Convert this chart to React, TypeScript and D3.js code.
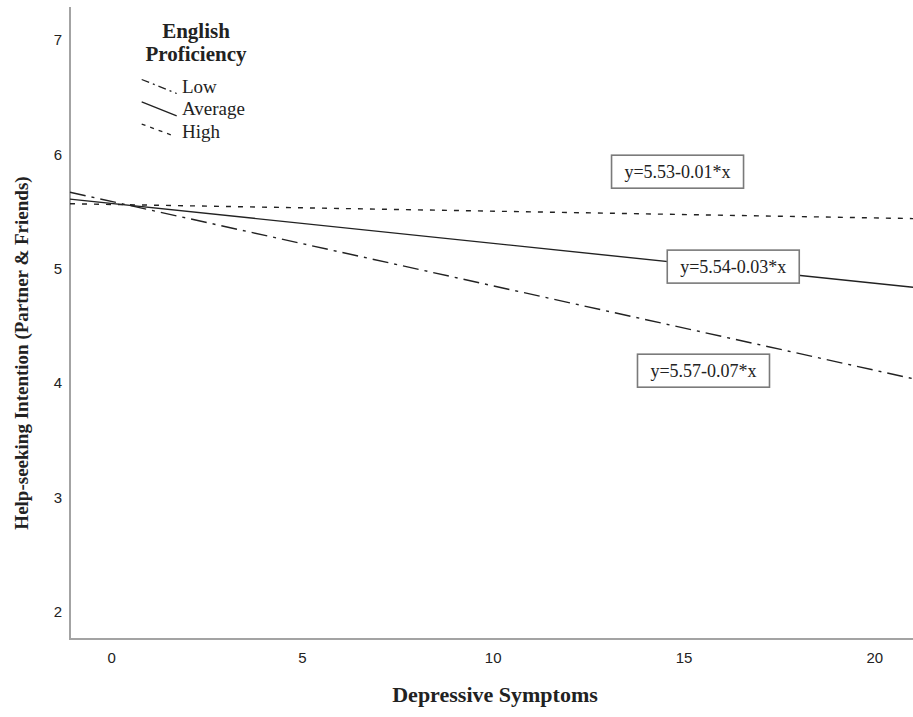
import React from 'react';
import * as d3 from 'd3';

// regression lines (value at left and right edge of the x range)
const xEnds = [-1.09, 21];
const lowValues = [5.67, 4.04];
const averageValues = [5.61, 4.84];
const highValues = [5.57, 5.44];

const xTicks = [0, 5, 10, 15, 20];
const yTicks = [2, 3, 4, 5, 6, 7];

const groups = ['Low', 'Average', 'High'];
const equations = ['y=5.57-0.07*x', 'y=5.54-0.03*x', 'y=5.53-0.01*x'];
// where each equation box sits, in data units
const eqAnchorX = [15.51, 16.29, 14.83];
const eqAnchorY = [4.11, 5.02, 5.85];

const W = 913;
const H = 717;
const ink = '#222';
const serif = '"Liberation Serif", "Times New Roman", serif';
const sans = '"Liberation Sans", Arial, sans-serif';
const dashes: Record<string, string | undefined> = {
  Low: '16,6,3,6',
  Average: undefined,
  High: '5,7',
};

const App = () => {
  const x = d3.scaleLinear().domain([-1.09, 21]).range([70, 913]);
  const y = d3.scaleLinear().domain([1.764, 7.29]).range([639, 7]);

  const line = d3
    .line<number>()
    .x((d, i) => x(xEnds[i]))
    .y((d) => y(d));

  const series = [lowValues, averageValues, highValues];

  return (
    <svg
      width={W}
      height={H}
      style={{ position: 'absolute', left: 0, top: 0, background: '#fff' }}
    >
      {/* axes */}
      <line x1={70} x2={70} y1={7} y2={640} stroke="#a3a3a3" strokeWidth={2} />
      <line x1={69} x2={913} y1={639} y2={639} stroke="#a3a3a3" strokeWidth={2} />

      {xTicks.map((t) => (
        <text
          key={'x' + t}
          x={x(t)}
          y={663}
          textAnchor="middle"
          fontFamily={sans}
          fontSize={15}
          fill={ink}
        >
          {t}
        </text>
      ))}
      {yTicks.map((t) => (
        <text
          key={'y' + t}
          x={62}
          y={y(t) + 5}
          textAnchor="end"
          fontFamily={sans}
          fontSize={15}
          fill={ink}
        >
          {t}
        </text>
      ))}

      {/* regression lines */}
      {series.map((vals, i) => (
        <path
          key={groups[i]}
          d={line(vals) || ''}
          fill="none"
          stroke={ink}
          strokeWidth={1.4}
          strokeDasharray={dashes[groups[i]]}
        />
      ))}

      {/* equation boxes */}
      {equations.map((eq, i) => {
        const cx = x(eqAnchorX[i]);
        const cy = y(eqAnchorY[i]);
        return (
          <g key={eq}>
            <rect
              x={cx - 66}
              y={cy - 16.5}
              width={132}
              height={33}
              fill="#fff"
              stroke="#7a7a7a"
              strokeWidth={1.6}
            />
            <text
              x={cx}
              y={cy + 6}
              textAnchor="middle"
              fontFamily={serif}
              fontSize={18}
              fill={ink}
            >
              {eq}
            </text>
          </g>
        );
      })}

      {/* legend */}
      <text x={196} y={38} textAnchor="middle" fontFamily={serif} fontWeight="bold" fontSize={21} fill={ink}>
        English
      </text>
      <text x={196} y={61} textAnchor="middle" fontFamily={serif} fontWeight="bold" fontSize={21} fill={ink}>
        Proficiency
      </text>
      {groups.map((g, i) => {
        const top = 79.5 + i * 22.3;
        return (
          <g key={'leg' + g}>
            <line
              x1={141.7}
              y1={top}
              x2={i === 2 ? 171.7 : 176.7}
              y2={top + (i === 2 ? 11 : 14)}
              stroke={ink}
              strokeWidth={1.3}
              strokeDasharray={g === 'Low' ? '8,4,2,4' : g === 'High' ? '4,5' : undefined}
            />
            <text x={182} y={top + 13.5} fontFamily={serif} fontSize={19} fill={ink}>
              {g}
            </text>
          </g>
        );
      })}

      {/* axis titles */}
      <text x={495} y={702} textAnchor="middle" fontFamily={serif} fontWeight="bold" fontSize={22} fill={ink}>
        Depressive Symptoms
      </text>
      <text
        transform="translate(28,353) rotate(-90)"
        textAnchor="middle"
        fontFamily={serif}
        fontWeight="bold"
        fontSize={19}
        fill={ink}
      >
        Help-seeking Intention (Partner &amp; Friends)
      </text>
    </svg>
  );
};

export default App;
